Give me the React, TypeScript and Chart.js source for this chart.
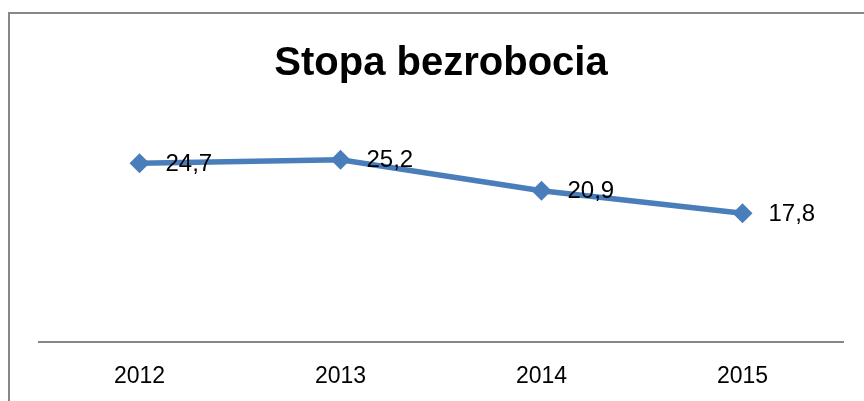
import React, { useEffect, useRef } from "react";
import { Chart, registerables } from "chart.js";

Chart.register(...registerables);

const title = "Stopa bezrobocia";
const years = ["2012", "2013", "2014", "2015"];
const rates = [24.7, 25.2, 20.9, 17.8];
const yMin = 0;
const yMax = 30;

const FONT = "'Liberation Sans', Arial, sans-serif";
const LINE_COLOR = "#4a7ebb";
const FRAME_COLOR = "#878787";

const framePlugin = {
  id: "frame",
  beforeDraw(chart: any) {
    const ctx = chart.ctx;
    ctx.save();
    ctx.fillStyle = "#ffffff";
    ctx.fillRect(0, 0, chart.width, chart.height);
    ctx.strokeStyle = FRAME_COLOR;
    ctx.lineWidth = 2;
    ctx.strokeRect(9, 13, chart.width + 50, chart.height + 50);
    ctx.restore();
  },
};

const labelPlugin = {
  id: "valueLabels",
  afterDatasetsDraw(chart: any) {
    const ctx = chart.ctx;
    const meta = chart.getDatasetMeta(0);
    const data = chart.data.datasets[0].data as number[];
    ctx.save();
    ctx.font = `24px ${FONT}`;
    ctx.fillStyle = "#000000";
    ctx.textAlign = "left";
    ctx.textBaseline = "middle";
    meta.data.forEach((pt: any, i: number) => {
      const txt = data[i].toFixed(1).replace(".", ",");
      ctx.fillText(txt, pt.x + 26, pt.y + 1);
    });
    ctx.restore();
  },
};

export default function App() {
  const ref = useRef<HTMLCanvasElement | null>(null);
  useEffect(() => {
    if (!ref.current) return;
    const chart = new Chart(ref.current, {
      type: "line",
      data: {
        labels: years,
        datasets: [
          {
            data: rates,
            borderColor: LINE_COLOR,
            backgroundColor: LINE_COLOR,
            borderWidth: 5.5,
            pointStyle: "rectRot",
            pointRadius: 10,
            pointBorderWidth: 0,
            pointBackgroundColor: LINE_COLOR,
            tension: 0,
          },
        ],
      },
      options: {
        responsive: false,
        animation: false,
        layout: { padding: { left: 39, right: 21, top: 0, bottom: 0 } },
        plugins: {
          legend: { display: false },
          tooltip: { enabled: false },
          title: {
            display: true,
            text: title,
            color: "#000000",
            font: { family: FONT, size: 40, weight: "bold" },
            padding: { top: 40, bottom: 37 },
          },
        },
        scales: {
          x: {
            offset: true,
            grid: { display: false, drawTicks: false },
            border: { display: true, color: FRAME_COLOR, width: 2 },
            ticks: {
              color: "#000000",
              font: { family: FONT, size: 23 },
              padding: 21,
            },
            afterFit(scale: any) {
              scale.height = 59;
            },
          },
          y: {
            display: false,
            min: yMin,
            max: yMax,
          },
        },
      },
      plugins: [framePlugin, labelPlugin],
    });
    return () => chart.destroy();
  }, []);
  return (
    <div style={{ position: "absolute", left: 0, top: 0, width: 864, height: 401 }}>
      <canvas ref={ref} width={864} height={401} style={{ width: 864, height: 401, display: "block" }} />
    </div>
  );
}
